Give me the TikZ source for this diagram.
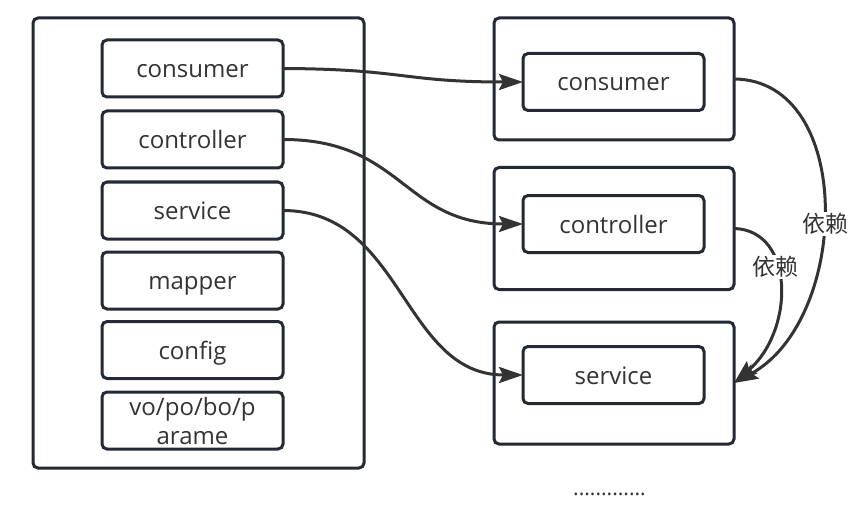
\documentclass[tikz,border=0pt]{standalone}
\usepackage{fontspec}
\setmainfont{Open Sans}
\newfontfamily\cjk{Noto Sans CJK SC}
\usetikzlibrary{arrows.meta}
\definecolor{boxcol}{HTML}{232A33}
\definecolor{linecol}{HTML}{333333}
\definecolor{txtcol}{HTML}{333333}
\begin{document}
\begin{tikzpicture}[x=1pt,y=-1pt,
  box/.style={draw=boxcol, line width=3pt, rounded corners=5pt, outer sep=0pt, inner sep=0pt},
  item/.style={box, minimum width=181pt, minimum height=57pt, font=\fontsize{24}{29}\selectfont, text=txtcol, align=center, text height=21pt, text depth=3pt},
  conn/.style={draw=linecol, line width=3pt, -{Stealth[length=24pt,width=16pt,inset=4pt]}},
  lbl/.style={fill=white, inner sep=1pt, font=\cjk\fontsize{23}{26}\selectfont, text=txtcol}]
\useasboundingbox (0,0) rectangle (853,505);
% left container
\node[box, minimum width=331pt, minimum height=450pt] (left) at (198.5,243) {};
\node[item] (lcons) at (192.5,68.5) {consumer};
\node[item] (lctrl) at (192.5,139.5) {controller};
\node[item] (lserv) at (192.5,210.5) {service};
\node[item] (lmap)  at (192.5,280.5) {mapper};
\node[item] (lconf) at (192.5,350) {config};
\node[item, text height=, text depth=] (lvo) at (192.5,420.5) {vo/po/bo/p\\arame};
% right modules
\node[box, minimum width=240pt, minimum height=122pt] (ro1) at (614,79) {};
\node[box, minimum width=240pt, minimum height=122pt] (ro2) at (614,228.5) {};
\node[box, minimum width=240pt, minimum height=122pt] (ro3) at (614,383) {};
\node[item] (rcons) at (613.5,82) {consumer};
\node[item] (rctrl) at (613.5,224) {controller};
\node[item] (rserv) at (613.5,375) {service};
\node[anchor=base, font=\fontsize{21}{24}\selectfont, text=txtcol] (dots) at (609.5,495) {.............};
% connectors
\draw[conn] (lcons.east) .. controls (403,69) and (403,82) .. (rcons.west);
\draw[conn] (lctrl.east) .. controls (403,139.5) and (403,224) .. (rctrl.west);
\draw[conn] (lserv.east) .. controls (403,210.5) and (403,375) .. (rserv.west);
\draw[conn] (ro1.east) .. controls (856,80) and (850,320) .. (ro3.east);
\draw[conn] (ro2.east) .. controls (795,230) and (795,330) .. (ro3.east);
\node[lbl] (dep1) at (825,224) {依赖};
\node[lbl] (dep2) at (775,267) {依赖};
\end{tikzpicture}
\end{document}
